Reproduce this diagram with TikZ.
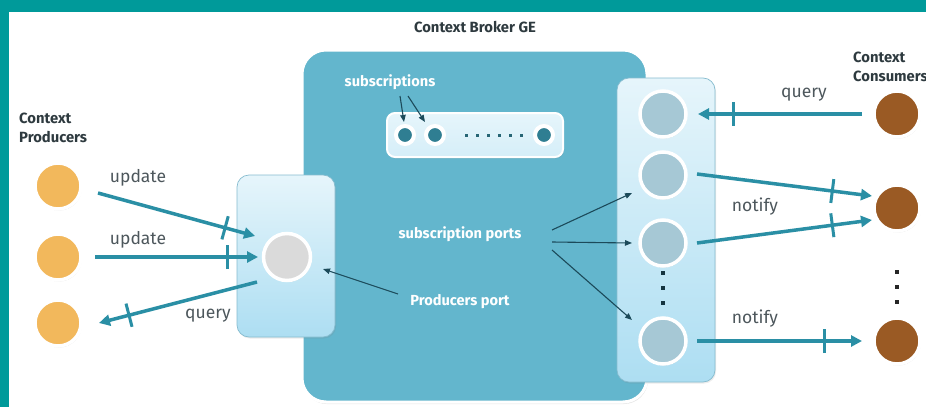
\documentclass[tikz,border=0pt]{standalone}
\usepackage{fontspec}
\setmainfont{Fira Sans}
\usetikzlibrary{arrows.meta,calc,decorations.markings,shadows}
\definecolor{framec}{HTML}{009A9A}
\definecolor{bigc}{HTML}{63B6CD}
\definecolor{flowc}{HTML}{2A8FA5}
\definecolor{thinc}{HTML}{1C4A5A}
\definecolor{prodc}{HTML}{F2B85C}
\definecolor{consc}{HTML}{9A5A24}
\definecolor{portc}{HTML}{A6C8D5}
\definecolor{ppc}{HTML}{DADADA}
\definecolor{subc}{HTML}{2F7E92}
\definecolor{txtc}{HTML}{2E3A3F}
\definecolor{boxtop}{HTML}{E6F5FB}
\definecolor{boxbot}{HTML}{ADDEF2}
\definecolor{boxedge}{HTML}{86BCCF}
\tikzset{
  dot/.style={circle, draw=white, line width=3.5pt, inner sep=0pt,
    drop shadow={opacity=0.3, shadow xshift=0.8pt, shadow yshift=-1.5pt}},
  prod/.style={dot, fill=prodc, minimum size=46pt},
  cons/.style={dot, fill=consc, minimum size=46pt},
  port/.style={dot, fill=portc, minimum size=46pt},
  pport/.style={dot, fill=ppc, minimum size=47pt},
  subdot/.style={circle, fill=subc, draw=white, line width=4pt, minimum size=18pt, inner sep=0pt,
    drop shadow={opacity=0.25, shadow xshift=0.5pt, shadow yshift=-1pt}},
  sq/.style={fill=#1, minimum size=4pt, inner sep=0pt},
  flow/.style={draw=flowc, line width=3.5pt, -{Triangle[length=11pt,width=11pt]},
    postaction={decorate},
    decoration={markings, mark=at position #1 with {\draw[flowc, line width=3pt, arrows=-] (0,-12pt) -- (0,12pt);}}},
  flow/.default=-31pt,
  thin/.style={draw=thinc, line width=1.1pt, -{Triangle[length=7pt,width=5.5pt]}},
  lbl/.style={text=txtc!85, font=\fontsize{17.5}{20}\selectfont, inner sep=0pt},
  wlbl/.style={text=white, font=\bfseries\fontsize{14.6}{16}\selectfont, inner sep=0pt},
  hdr/.style={text=txtc, font=\bfseries\fontsize{14.8}{19}\selectfont, inner sep=0pt, align=left},
  portbox/.style={top color=boxtop, bottom color=boxbot, draw=boxedge, line width=0.7pt, rounded corners=12pt,
    drop shadow={opacity=0.15, shadow xshift=1pt, shadow yshift=-1.5pt}},
}
\begin{document}
\begin{tikzpicture}[x=1pt,y=-1pt]
\useasboundingbox (0,0) rectangle (926,407);
% frame
\fill[white] (0,0) rectangle (926,407);
\fill[framec] (0,0) rectangle (926,12);
\fill[framec] (0,0) rectangle (8.5,407);

% big box
\draw[fill=bigc, draw=white, line width=3pt, rounded corners=24pt,
  drop shadow={opacity=0.2, shadow xshift=1pt, shadow yshift=-2pt}] (302,50) rectangle (647,402);
\node[text=txtc, font=\bfseries\fontsize{14.8}{16}\selectfont, inner sep=0pt] (title) at (475,27) {Context Broker GE};

% subscriptions box
\draw[top color=boxtop, bottom color=boxtop!70!boxbot, draw=white, line width=2pt, rounded corners=8pt,
  drop shadow={opacity=0.2, shadow xshift=1pt, shadow yshift=-1.5pt}] (387,113) rectangle (563,157);
\node[subdot] (sc1) at (405,135) {};
\node[subdot] (sc2) at (435,135) {};
\node[subdot] (sc3) at (544,135) {};
\foreach \i in {0,...,5} \node[sq=subc!80!black, minimum size=3pt] (sd\i) at (466+11*\i,135) {};
\node[wlbl] (subl) at (390,82) {subscriptions};
\draw[thin] ($(subl)+(10,14)$) -- ($(sc1)+(-1,-13)$);
\draw[thin] ($(subl)+(18,14)$) -- ($(sc2)+(-10,-13)$);

% producers port box
\draw[portbox] (237,175) rectangle (335,337);
\node[pport] (pp) at (287,257) {};

% subscription ports box
\draw[portbox] (617,78) rectangle (715,382);
\node[port] (s1) at (663,114) {};
\node[port] (s2) at (663,175) {};
\node[port] (s3) at (663,243) {};
\node[port] (s4) at (663,341) {};
\foreach \y [count=\k] in {273,288,303} \node[sq=thinc!70!black] (sv\k) at (663,\y) {};

% producers
\node[hdr, anchor=west] (ph) at (19,127.5) {Context\\Producers};
\node[prod] (p1) at (58,186) {};
\node[prod] (p2) at (58,257) {};
\node[prod] (p3) at (58,323) {};

% consumers
\node[hdr, anchor=west] (ch) at (853,67) {Context\\Consumers};
\node[cons] (c1) at (897,114) {};
\node[cons] (c2) at (897,208) {};
\node[cons] (c3) at (897,341) {};
\foreach \y [count=\k] in {272,287,302} \node[sq=black!85] (cv\k) at (897,\y) {};

% flows
\draw[flow] ($(p1)+(40,7)$) -- ($(pp)+(-32,-21)$);
\draw[flow] ($(p2)+(37,0)$) -- ($(pp)+(-29,0)$);
\draw[flow] ($(pp)+(-30,25)$) -- ($(p3)+(41,0)$);
\draw[flow=-35pt] ($(c1)+(-35,0)$) -- ($(s1)+(35,0)$);
\draw[flow=-40pt] ($(s2)+(34,-1)$) -- ($(c2)+(-25,-12)$);
\draw[flow=-40pt] ($(s3)+(34,0)$) -- ($(c2)+(-25,12)$);
\draw[flow=-38pt] ($(s4)+(34,0)$) -- ($(c3)+(-35,0)$);

\node[lbl] (lu1) at (138,178) {update};
\node[lbl] (lu2) at (138,240) {update};
\node[lbl] (lq1) at (208,316) {query};
\node[lbl] (lq2) at (804,95) {query};
\node[lbl] (ln1) at (755,207) {notify};
\node[lbl] (ln2) at (755,319) {notify};

% internal labels
\node[wlbl] (spl) at (460,234) {subscription ports};
\node[wlbl] (ppl) at (460,302) {Producers port};
\draw[thin] ($(spl)+(92,-4)$) -- ($(s2)+(-31,18)$);
\draw[thin] ($(spl)+(92,8)$) -- ($(s3)+(-31,0)$);
\draw[thin] ($(spl)+(92,16)$) -- ($(s4)+(-31,-21)$);
\draw[thin] ($(ppl)+(-62,-8)$) -- ($(pp)+(36,12)$);
\end{tikzpicture}
\end{document}
